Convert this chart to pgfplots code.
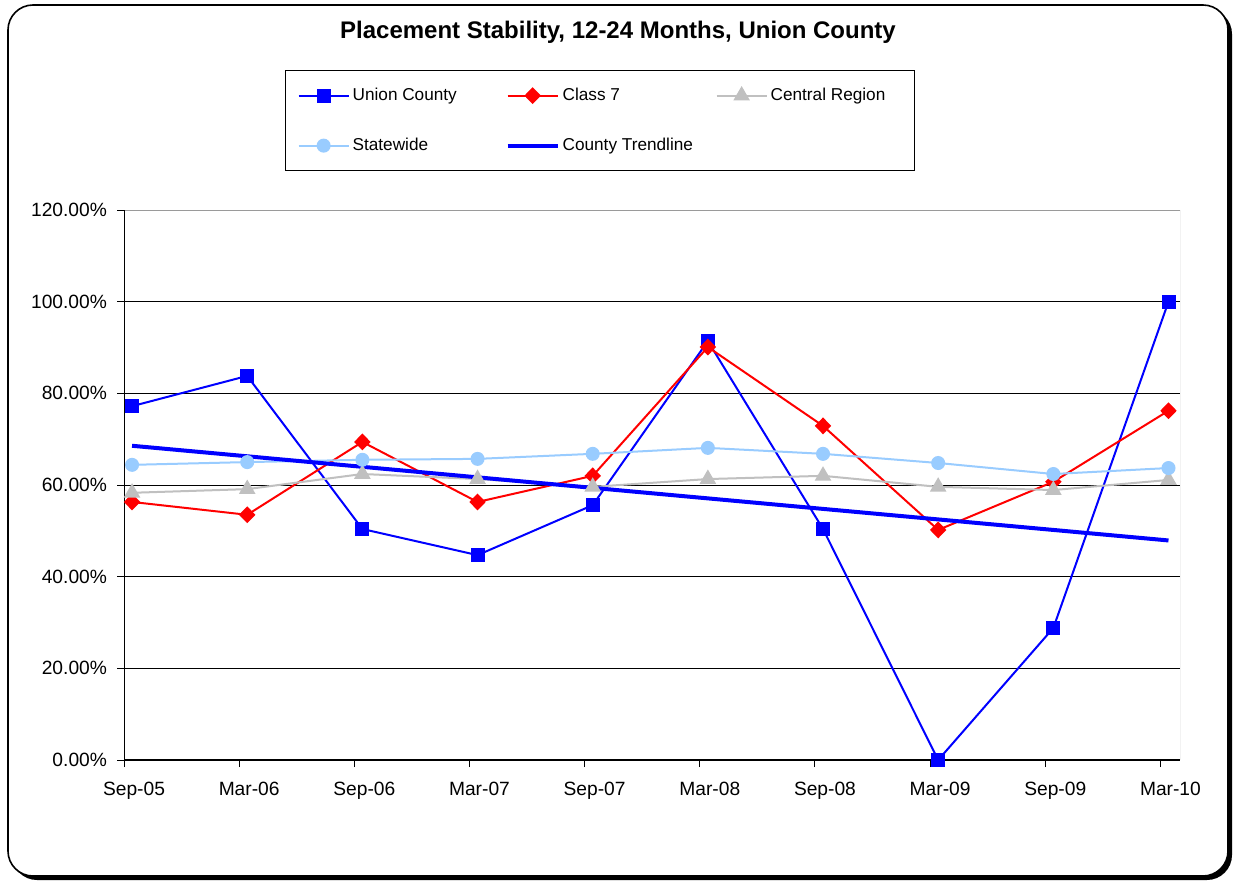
\documentclass[border=0pt]{standalone}
\usepackage{fontspec}
\setmainfont{Liberation Sans}
\usepackage{pgfplots}
\pgfplotsset{compat=1.18}
\definecolor{ucblue}{RGB}{0,0,255}
\definecolor{cred}{RGB}{255,0,0}
\definecolor{cgray}{RGB}{192,192,192}
\definecolor{sblue}{RGB}{153,204,255}
\begin{document}
\begin{tikzpicture}
\begin{scope}[x=0.5pt,y=0.5pt]
\useasboundingbox (0,0) rectangle (1236,-882);
\fill[black, rounded corners=12.5pt] (12,-9) rectangle (1232,-880);
\filldraw[fill=white, draw=black, line width=0.8pt, rounded corners=12.5pt] (8,-5) rectangle (1228,-876);
\node[font=\fontsize{12}{14}\selectfont\bfseries] at (618,-32) {Placement Stability, 12-24 Months, Union County};
\end{scope}
\begin{axis}[
  at={(62pt,-380pt)}, anchor=south west,
  scale only axis, width=528pt, height=275pt,
  xmin=0, xmax=9.17, ymin=0, ymax=120,
  xtick={0,1,2,3,4,5,6,7,8,9},
  xticklabels={Sep-05,Mar-06,Sep-06,Mar-07,Sep-07,Mar-08,Sep-08,Mar-09,Sep-09,Mar-10},
  ytick={0,20,40,60,80,100,120},
  yticklabels={0.00\%,20.00\%,40.00\%,60.00\%,80.00\%,100.00\%,120.00\%},
  /pgf/number format/assume math mode=true,
  tick label style={font=\fontsize{9.6}{11}\selectfont, text=black},
  x tick label style={xshift=5pt, yshift=-4pt},
  y tick label style={xshift=-1.5pt},
  tick align=outside, major tick length=3.5pt,
  tick style={black, line width=0.5pt},
  xtick pos=bottom, ytick pos=left,
  ymajorgrids, grid style={black, line width=0.5pt},
  axis line style={draw=none},
  legend columns=3,
  legend style={at={(0.1525,1.2545)}, anchor=north west, draw=black, line width=0.6pt,
    inner xsep=6pt, inner ysep=6.5pt,
    font=\fontsize{8.6}{10}\selectfont,
    nodes={inner sep=1.5pt, text height=7pt, text depth=2pt, anchor=west},
    /tikz/every even column/.append style={column sep=0pt},
    row sep=13pt, cells={anchor=west}},
  legend image code/.code={\draw[mark repeat=2,mark phase=2,#1] plot coordinates {(0pt,0pt) (12.5pt,0pt) (25pt,0pt)};},
]
\draw[cgray!80!black, line width=0.5pt] (rel axis cs:0,1) -- (rel axis cs:1,1) -- (rel axis cs:1,0);
\addplot[ucblue, line width=1pt, mark=square*, mark size=3pt, mark options={solid}] coordinates {
 (0.07,77.2) (1.07,83.8) (2.07,50.4) (3.07,44.7) (4.07,55.6) (5.07,91.4) (6.07,50.4) (7.07,0) (8.07,28.8) (9.07,100)};
\addlegendentry{\makebox[75pt][l]{Union County}}
\addplot[cred, line width=1pt, mark=diamond*, mark size=3.5pt, mark options={xscale=1.3}] coordinates {
 (0.07,56.3) (1.07,53.5) (2.07,69.4) (3.07,56.3) (4.07,62.0) (5.07,90.1) (6.07,72.9) (7.07,50.2) (8.07,60.7) (9.07,76.2)};
\addlegendentry{\makebox[75pt][l]{Class 7}}
\addplot[cgray, line width=1pt, mark=triangle*, mark size=3.8pt] coordinates {
 (0.07,58.3) (1.07,59.1) (2.07,62.4) (3.07,61.3) (4.07,59.6) (5.07,61.3) (6.07,62.0) (7.07,59.6) (8.07,58.9) (9.07,61.1)};
\addlegendentry{\makebox[64.5pt][l]{Central Region}}
\addplot[sblue, line width=1pt, mark=*, mark size=3pt] coordinates {
 (0.07,64.4) (1.07,65.0) (2.07,65.5) (3.07,65.7) (4.07,66.8) (5.07,68.1) (6.07,66.8) (7.07,64.8) (8.07,62.4) (9.07,63.7)};
\addlegendentry{\makebox[75pt][l]{Statewide}}
\addplot[ucblue, line width=2pt, no marks] coordinates {(0.07,68.56) (9.07,47.9)};
\addlegendentry{\makebox[75pt][l]{County Trendline}}
\draw[black, line width=0.6pt] (rel axis cs:0,1) -- (rel axis cs:0,0) -- (rel axis cs:1,0);
\end{axis}
\end{tikzpicture}
\end{document}
